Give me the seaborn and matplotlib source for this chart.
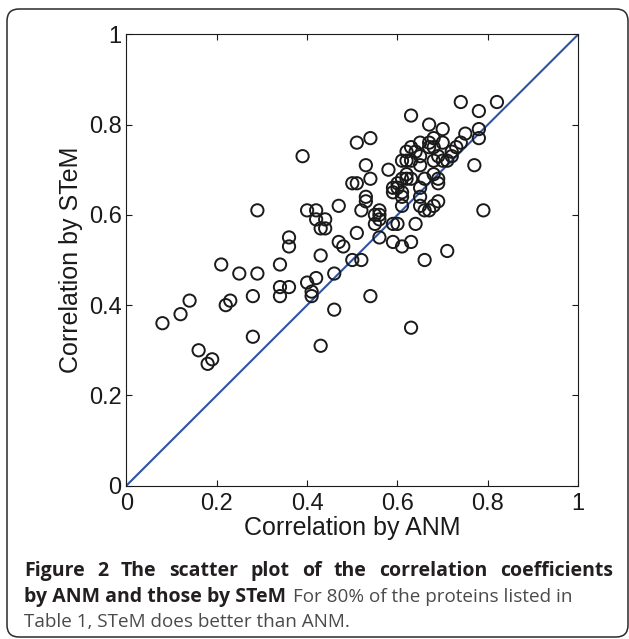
import matplotlib
matplotlib.use("Agg")
import matplotlib.pyplot as plt
import matplotlib.transforms as mtransforms
from matplotlib.patches import FancyBboxPatch
import seaborn as sns
import pandas as pd

anm = [0.08, 0.12, 0.14, 0.16, 0.18, 0.19, 0.21, 0.22, 0.23, 0.25,
       0.28, 0.28, 0.29, 0.29, 0.34, 0.34, 0.34, 0.36, 0.36, 0.36,
       0.39, 0.40, 0.40, 0.41, 0.41, 0.42, 0.42, 0.42, 0.43, 0.43,
       0.43, 0.44, 0.44, 0.46, 0.46, 0.47, 0.47, 0.48, 0.50, 0.50,
       0.51, 0.51, 0.51, 0.52, 0.52, 0.53, 0.53, 0.53, 0.54, 0.54,
       0.54, 0.56, 0.56, 0.56, 0.56, 0.55, 0.58, 0.59, 0.59, 0.59,
       0.60, 0.60, 0.61, 0.61, 0.61, 0.61, 0.61, 0.62, 0.62, 0.62,
       0.63, 0.63, 0.63, 0.63, 0.63, 0.63, 0.64, 0.65, 0.65, 0.65,
       0.65, 0.65, 0.66, 0.67, 0.67, 0.67, 0.68, 0.68, 0.68, 0.68,
       0.68, 0.69, 0.69, 0.69, 0.70, 0.70, 0.71, 0.71, 0.72, 0.73,
       0.74, 0.74, 0.75, 0.77, 0.78, 0.78, 0.78, 0.79, 0.82, 0.62,
       0.60, 0.61, 0.65, 0.67, 0.70, 0.69, 0.66, 0.59, 0.64, 0.72,
       0.55, 0.66]
stem = [0.36, 0.38, 0.41, 0.30, 0.27, 0.28, 0.49, 0.40, 0.41, 0.47,
        0.42, 0.33, 0.47, 0.61, 0.49, 0.44, 0.42, 0.44, 0.55, 0.53,
        0.73, 0.45, 0.61, 0.43, 0.42, 0.46, 0.61, 0.59, 0.51, 0.31,
        0.57, 0.59, 0.57, 0.47, 0.39, 0.62, 0.54, 0.53, 0.50, 0.67,
        0.67, 0.56, 0.76, 0.50, 0.61, 0.71, 0.64, 0.63, 0.77, 0.68,
        0.42, 0.61, 0.60, 0.59, 0.55, 0.58, 0.70, 0.65, 0.58, 0.54,
        0.66, 0.58, 0.53, 0.62, 0.65, 0.68, 0.72, 0.74, 0.72, 0.68,
        0.82, 0.35, 0.54, 0.68, 0.72, 0.75, 0.58, 0.76, 0.71, 0.66,
        0.64, 0.62, 0.50, 0.80, 0.75, 0.61, 0.77, 0.75, 0.72, 0.69,
        0.62, 0.73, 0.68, 0.67, 0.79, 0.76, 0.52, 0.72, 0.73, 0.75,
        0.85, 0.76, 0.78, 0.71, 0.83, 0.79, 0.77, 0.61, 0.85, 0.69,
        0.67, 0.64, 0.73, 0.76, 0.72, 0.63, 0.61, 0.66, 0.74, 0.74,
        0.60, 0.68]
diag = [0.0, 1.0]
ticks = [0, 0.2, 0.4, 0.6, 0.8, 1]
tick_labels = ["0", "0.2", "0.4", "0.6", "0.8", "1"]
xlabel = "Correlation by ANM"
ylabel = "Correlation by STeM"
cap_bold1 = "Figure 2 The scatter plot of the correlation coefficients"
cap_bold2 = "by ANM and those by STeM"
cap_reg2 = "For 80% of the proteins listed in"
cap_reg3 = "Table 1, STeM does better than ANM."

sns.set_style("ticks")
plt.rcParams['font.family'] = ['Liberation Sans', 'DejaVu Sans']

W, H = 629, 639
fig = plt.figure(figsize=(W / 100, H / 100), dpi=100)
ax = fig.add_axes([126.3 / W, (H - 485.7) / H, 452 / W, 451.4 / H])

df = pd.DataFrame({"anm": anm, "stem": stem})
sns.lineplot(x=diag, y=diag, ax=ax, color="#2f52a2", linewidth=1.5, zorder=1)
sns.scatterplot(data=df, x="anm", y="stem", ax=ax, marker="o", s=78,
                facecolor="none", edgecolor="#1a1a1a", linewidth=1.4, zorder=3)

ax.set_xlim(0, 1)
ax.set_ylim(0, 1)
ax.set_xticks(ticks)
ax.set_yticks(ticks)
ax.set_xticklabels(tick_labels)
ax.set_yticklabels(tick_labels)
ax.tick_params(axis="both", direction="in", length=4, width=0.8, colors="#1a1a1a",
               labelsize=17, top=True, right=True)
ax.tick_params(axis="x", pad=5.0)
ax.tick_params(axis="y", pad=3.3)
for sp in ax.spines.values():
    sp.set_visible(True)
    sp.set_linewidth(0.8)
    sp.set_color("#1a1a1a")
ax.set_xlabel(xlabel, fontsize=18, color="#1a1a1a", labelpad=1)
ax.set_ylabel(ylabel, fontsize=18, color="#1a1a1a", labelpad=4)

# border
border = FancyBboxPatch((7, 2), 621, 628, boxstyle="round,pad=0,rounding_size=12",
                        transform=mtransforms.IdentityTransform(), fill=False,
                        edgecolor="#2a2a2a", linewidth=1.1, clip_on=False)
fig.patches.append(border)

# caption
renderer = fig.canvas.get_renderer()
ident = mtransforms.IdentityTransform()
cap_font = ['Open Sans', 'DejaVu Sans']
bold_col = "#231f20"
reg_col = "#4a4a4a"

def width_of(s, size, weight):
    t = fig.text(0, 0, s, fontsize=size, fontweight=weight, family=cap_font,
                 transform=ident)
    w = t.get_window_extent(renderer).width
    t.remove()
    return w

fs = 10 * 261.0 / width_of(cap_bold2, 10, "bold")
fs_reg = 10 * 279.0 / width_of(cap_reg2, 10, "normal")

x0, x1 = 24, 613
# line 1 justified
words = cap_bold1.split(" ")
ws = [width_of(w, fs, "bold") for w in words]
gap = (x1 - x0 - sum(ws)) / (len(words) - 1)
x = x0
for w, wd in zip(words, ws):
    fig.text(x, H - 576, w, fontsize=fs, fontweight="bold", family=cap_font,
             color=bold_col, transform=ident, va="baseline", ha="left")
    x += wd + gap
# line 2
fig.text(x0, H - 602, cap_bold2, fontsize=fs, fontweight="bold", family=cap_font,
         color=bold_col, transform=ident, va="baseline", ha="left")
fig.text(293, H - 602, cap_reg2, fontsize=fs_reg, family=cap_font,
         color=reg_col, transform=ident, va="baseline", ha="left")
# line 3
fig.text(x0, H - 627, cap_reg3, fontsize=fs_reg, family=cap_font,
         color=reg_col, transform=ident, va="baseline", ha="left")

fig.savefig("out.png", dpi=100)
